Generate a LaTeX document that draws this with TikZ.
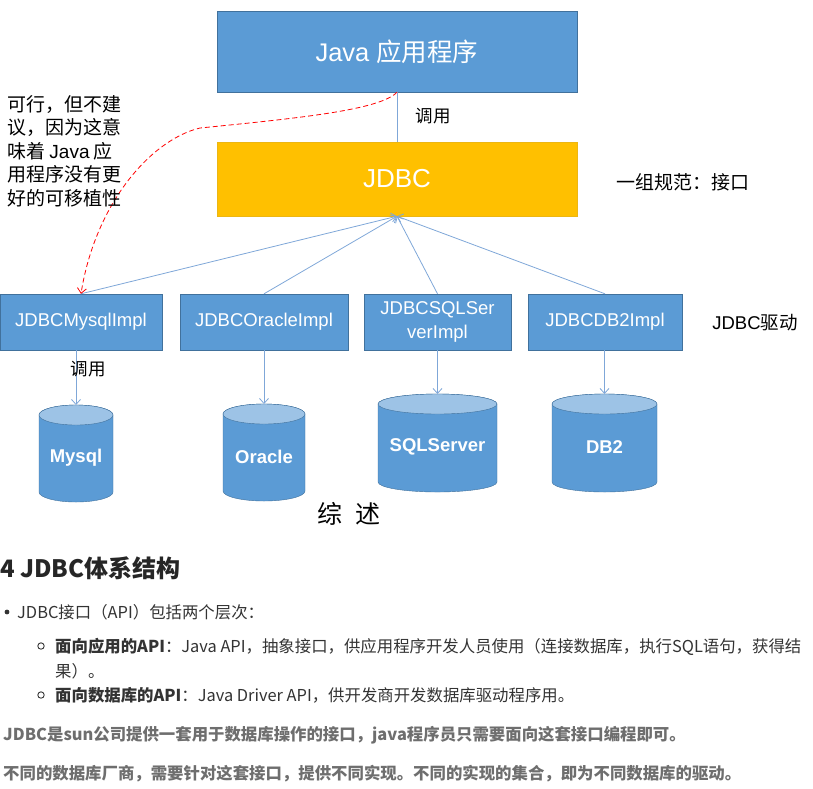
\documentclass[tikz,border=0pt]{standalone}
\usepackage{fontspec}
\setmainfont{Liberation Sans}
\newfontfamily\cjk{Noto Sans CJK SC}
\usepackage{tikz}
\usetikzlibrary{positioning}
\usetikzlibrary{calc,arrows.meta}
\definecolor{boxblue}{HTML}{5B9BD5}
\definecolor{boxedge}{HTML}{41719C}
\definecolor{dbtop}{HTML}{9DC3E6}
\definecolor{linkblue}{HTML}{7FA7D8}
\definecolor{jdbcgold}{HTML}{FFC000}
\definecolor{bodygray}{HTML}{333333}
\definecolor{notegray}{HTML}{6E6E6E}
\tikzstyle{layer}=[draw=boxedge,fill=boxblue,text=white,inner sep=0pt]
\tikzstyle{impl}=[layer,minimum height=56pt,font=\fontsize{18.5}{24}\selectfont]
\tikzstyle{link}=[->,linkblue,line width=0.8pt]
\tikzstyle{lbl}=[font=\cjk\fontsize{17.5}{20}\selectfont,inner sep=0pt]
\tikzstyle{dbtext}=[text=white,font=\bfseries\fontsize{18.5}{21}\selectfont]
\tikzstyle{doc}=[anchor=base west,inner sep=0pt,text=bodygray,font=\cjk\fontsize{16.4}{20}\selectfont]
\tikzset{>={Straight Barb[length=5pt,width=9pt]}}

% one database cylinder: name, left, right, top, bottom, label
\newcommand{\drawDB}[6]{%
  \pgfmathsetmacro{\dbcx}{(#2+#3)/2}
  \pgfmathsetmacro{\dbrx}{(#3-#2)/2}
  \filldraw[draw=boxedge,fill=boxblue] (#2,#4+10) -- (#2,#5-10)
    arc[start angle=180,end angle=0,x radius=\dbrx,y radius=10] -- (#3,#4+10)
    arc[start angle=0,end angle=-180,x radius=\dbrx,y radius=10] -- cycle;
  \filldraw[draw=boxedge,fill=dbtop] (\dbcx,#4+10) ellipse[x radius=\dbrx,y radius=10];
  \coordinate (#1) at (\dbcx,#4);
  \node[dbtext] (#1Label) at (\dbcx,{(#4+#5)/2+4}) {#6};
}

\begin{document}
\begin{tikzpicture}[x=1pt,y=-1pt]
    \useasboundingbox (0,0) rectangle (813,788);

    % the two layers on top
    \node[layer,minimum width=360pt,minimum height=81pt,font=\fontsize{25.5}{28}\selectfont]
      (javaApp) at (397,51.5) {Java {\cjk 应用程序}};
    \node[draw=jdbcgold!85!gray,fill=jdbcgold,text=white,inner sep=0pt,
      minimum width=360pt,minimum height=74pt,font=\fontsize{26}{28}\selectfont]
      (jdbc) at (397,179) {JDBC};
    \draw[linkblue,line width=0.8pt] (javaApp.south) -- (jdbc.north);
    \node[lbl] (callTop) at (433,116) {调用};
    \node[font=\cjk\fontsize{19}{22}\selectfont] (specNote) at (683,182) {一组规范：接口};

    % driver implementations
    \node[impl,minimum width=162pt] (mysqlImpl) at (81,322) {JDBCMysqlImpl};
    \node[impl,minimum width=168pt] (oracleImpl) at (264,322) {JDBCOracleImpl};
    \node[impl,minimum width=147pt,align=center] (sqlImpl) at (437.5,322) {JDBCSQLSer\\verImpl};
    \node[impl,minimum width=154pt] (db2Impl) at (605,322) {JDBCDB2Impl};
    \node[font=\fontsize{18.5}{21}\selectfont] (driverNote) at (755,323) {JDBC{\cjk 驱动}};

    \draw[link] (mysqlImpl.north) -- (jdbc.south);
    \draw[link] (oracleImpl.north) -- (jdbc.south);
    \draw[link] (sqlImpl.north) -- (jdbc.south);
    \draw[link] (db2Impl.north) -- (jdbc.south);

    % the shortcut that is not recommended
    \draw[->,red,line width=0.8pt,dash pattern=on 5pt off 3pt]
      (javaApp.south) .. controls (380,110) and (300,118) .. (200,128)
      .. controls (150,140) and (95,205) .. (mysqlImpl.north);
    \node[font=\cjk\fontsize{19}{23.5}\selectfont,align=left,anchor=north west,inner sep=0pt]
      (portNote) at (7,95) {可行，但不建\\议，因为这意\\味着 {\rmfamily Java} 应\\用程序没有更\\好的可移植性};

    % databases
    \drawDB{mysqlTop}{39}{113}{405}{502}{Mysql}
    \drawDB{oracleTop}{223}{305}{404}{501}{Oracle}
    \drawDB{sqlTop}{378}{497}{394}{492}{SQLServer}
    \drawDB{dbTwoTop}{552}{657}{394}{492}{DB2}

    \draw[link] (mysqlImpl.south -| mysqlTop) -- (mysqlTop);
    \draw[link] (oracleImpl.south -| oracleTop) -- (oracleTop);
    \draw[link] (sqlImpl.south -| sqlTop) -- (sqlTop);
    \draw[link] (db2Impl.south -| dbTwoTop) -- (dbTwoTop);
    \node[lbl] (callMysql) at (88,369) {调用};

    \node[font=\cjk\fontsize{25}{28}\selectfont] (summary) at (349,514) {综\hspace{0.5em}述};

    % text below the figure
    \node[doc,text=black!85,font=\cjk\bfseries\fontsize{24}{28}\selectfont] (heading) at (0,577) {4 JDBC体系结构};
    \fill[bodygray] (7,612) circle (2.4);
    \node[doc] (levels) at (17,618) {JDBC接口（API）包括两个层次：};
    \draw[bodygray,line width=0.9pt] (41,646) circle (3.2);
    \node[doc] (appApi) at (55,652) {{\bfseries 面向应用的API}：Java API，抽象接口，供应用程序开发人员使用（连接数据库，执行SQL语句，获得结};
    \node[doc] (appApiEnd) at (55,677) {果）。};
    \draw[bodygray,line width=0.9pt] (41,695) circle (3.2);
    \node[doc] (dbApi) at (55,701) {{\bfseries 面向数据库的API}：Java Driver API，供开发商开发数据库驱动程序用。};
    \node[doc,text=notegray,font=\cjk\bfseries\fontsize{16.4}{20}\selectfont] (sunNote) at (3,740)
      {JDBC是sun公司提供一套用于数据库操作的接口，java程序员只需要面向这套接口编程即可。};
    \node[doc,text=notegray,font=\cjk\bfseries\fontsize{16.4}{20}\selectfont] (vendorNote) at (3,779)
      {不同的数据库厂商，需要针对这套接口，提供不同实现。不同的实现的集合，即为不同数据库的驱动。};
\end{tikzpicture}
\end{document}
